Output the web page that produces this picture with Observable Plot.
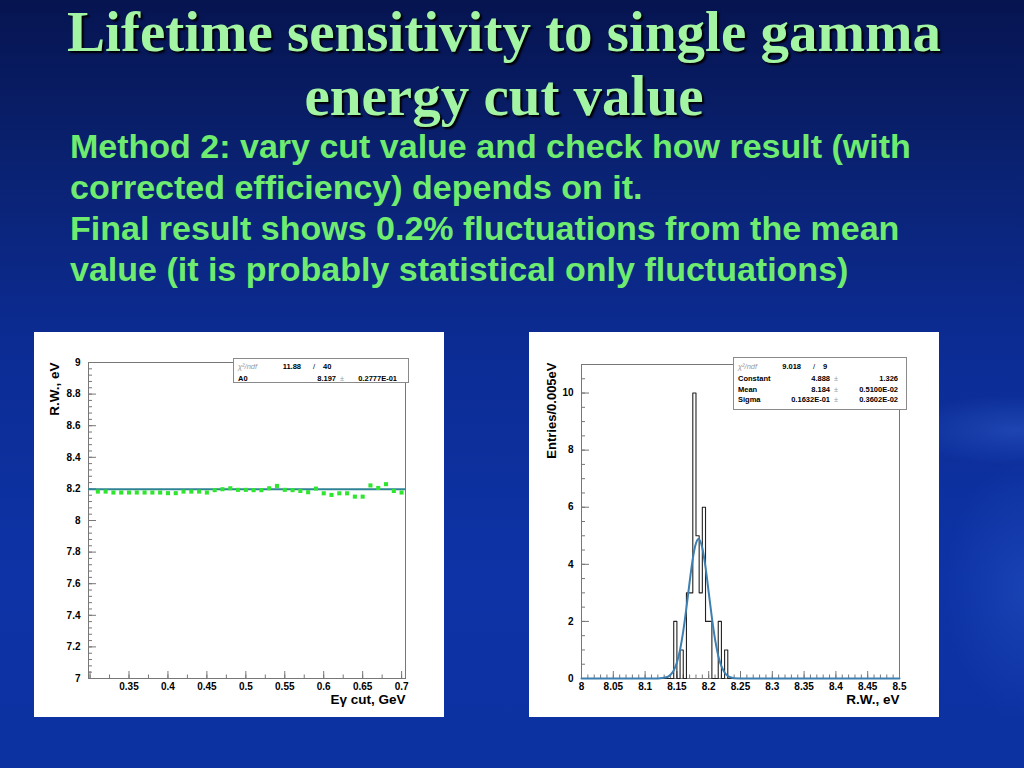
<!DOCTYPE html>
<html><head><meta charset="utf-8">
<script src="https://cdn.jsdelivr.net/npm/d3@7"></script>
<script src="https://cdn.jsdelivr.net/npm/@observablehq/plot@0.6"></script>
<style>
html,body{margin:0;padding:0;}
body{width:1024px;height:768px;overflow:hidden;position:relative;
background:
 radial-gradient(ellipse 110px 35px at 1015px 430px, rgba(70,120,230,0.30), rgba(70,120,230,0) 100%),
 radial-gradient(ellipse 80px 130px at 1025px 590px, rgba(60,110,220,0.25), rgba(60,110,220,0) 100%),
 linear-gradient(180deg,#061450 0%,#0a2272 22%,#0c2c94 45%,#0d33a6 75%,#0c31a0 100%);
font-family:"Liberation Sans",Arial,sans-serif;}
#title{position:absolute;left:0;width:1008px;top:0px;text-align:center;font-family:"Liberation Serif","Times New Roman",serif;font-weight:bold;font-size:57px;line-height:64px;color:#a3f5a3;text-shadow:2px 2px 2px #000;}
#body{position:absolute;left:70px;top:126px;font-weight:bold;font-size:34px;line-height:41px;color:#6fec6f;white-space:nowrap;}
.panel{position:absolute;top:332px;width:410px;height:385px;background:#fff;}
.panel svg{display:block;}
.stats{position:absolute;background:#fff;border:1px solid #8a8a8a;box-sizing:border-box;font:bold 7.5px "Liberation Sans",Arial,sans-serif;color:#000;}
.stats span{position:absolute;white-space:nowrap;line-height:9px;}
</style></head>
<body>
<div id="title">Lifetime sensitivity to single gamma<br>energy cut value</div>
<div id="body">Method 2: vary cut value and check how result (with<br>corrected efficiency) depends on it.<br>Final result shows 0.2% fluctuations from the mean<br>value (it is probably statistical only fluctuations)</div>
<div class="panel" id="pl" style="left:34px"></div>
<div class="panel" id="pr" style="left:529px"></div>
<script>
// ---- Left chart data: R.W. vs gamma energy cut ----
const cutValues = [0.31,0.32,0.33,0.34,0.35,0.36,0.37,0.38,0.39,0.40,0.41,0.42,0.43,0.44,0.45,0.46,0.47,0.48,0.49,0.50,0.51,0.52,0.53,0.54,0.55,0.56,0.57,0.58,0.59,0.60,0.61,0.62,0.63,0.64,0.65,0.66,0.67,0.68,0.69,0.70];
const rwValues = [8.183,8.183,8.177,8.177,8.177,8.177,8.177,8.177,8.177,8.173,8.173,8.183,8.183,8.183,8.177,8.192,8.198,8.204,8.194,8.194,8.192,8.192,8.204,8.219,8.194,8.192,8.187,8.179,8.202,8.172,8.162,8.172,8.172,8.151,8.151,8.222,8.206,8.230,8.187,8.177];
const fitA0 = 8.197;
const leftXDomain = [0.298, 0.705];
const leftYDomain = [7, 9];
const leftXTicks = [0.35,0.4,0.45,0.5,0.55,0.6,0.65,0.7];
const leftXMajor = [0.3,0.35,0.4,0.45,0.5,0.55,0.6,0.65,0.7];
const leftYTicks = [7,7.2,7.4,7.6,7.8,8,8.2,8.4,8.6,8.8,9];
const leftXTitle = "Eγ cut, GeV";
const leftYTitle = "R.W., eV";
const leftStats = [["χ²/ndf","11.88","40"],["A0","8.197","0.2777E-01"]];

// ---- Right chart data: histogram of R.W. ----
const histFirstEdge = 8.145;
const histBinWidth = 0.005;
const histCounts = [2,0,1,0,3,3,10,5,3,6,2,2,0,0,2,0,1];
const gaussX = [8.0,8.12,8.135,8.14,8.145,8.15,8.155,8.16,8.165,8.17,8.175,8.18,8.184,8.19,8.195,8.2,8.205,8.21,8.215,8.22,8.225,8.23,8.235,8.24,8.26,8.5];
const gaussY = [0,0,0.05,0.13,0.28,0.56,1.01,1.66,2.48,3.38,4.20,4.74,4.89,4.57,3.90,3.02,2.13,1.37,0.80,0.43,0.21,0.09,0.04,0.01,0,0];
const rightXDomain = [8, 8.5];
const rightYDomain = [0, 11];
const rightXTicks = [8,8.05,8.1,8.15,8.2,8.25,8.3,8.35,8.4,8.45,8.5];
const rightYTicks = [0,2,4,6,8,10];
const rightXTitle = "R.W., eV";
const rightYTitle = "Entries/0.005eV";
const rightStats = [["χ²/ndf","9.018","9"],["Constant","4.888","1.326"],["Mean","8.184","0.5100E-02"],["Sigma","0.1632E-01","0.3602E-02"]];

const fmt = d => String(d);
const baseStyle = {background:"#fff", color:"#000", fontFamily:"Liberation Sans, Arial, sans-serif", fontWeight:"bold", fontSize:"10px"};
const axisStroke = "#777";

function tickRules(xDom, yDom, innerW, innerH, xMajor, xMinor, yMajor, yMinor) {
  const pxX = (xDom[1]-xDom[0])/innerW, pxY = (yDom[1]-yDom[0])/innerH;
  const inX = v => v >= xDom[0]-1e-9 && v <= xDom[1]+1e-9;
  const inY = v => v >= yDom[0]-1e-9 && v <= yDom[1]+1e-9;
  return [
    Plot.ruleX(xMajor.filter(inX), {x: d=>d, y1: ()=>yDom[0], y2: ()=>yDom[0]+7*pxY, stroke: axisStroke}),
    Plot.ruleX(xMinor.filter(inX), {x: d=>d, y1: ()=>yDom[0], y2: ()=>yDom[0]+3.5*pxY, stroke: axisStroke}),
    Plot.ruleY(yMajor.filter(inY), {y: d=>d, x1: ()=>xDom[0], x2: ()=>xDom[0]+8*pxX, stroke: axisStroke}),
    Plot.ruleY(yMinor.filter(inY), {y: d=>d, x1: ()=>xDom[0], x2: ()=>xDom[0]+4*pxX, stroke: axisStroke})
  ];
}

// Left chart
const leftPts = cutValues.map((c,i)=>({cut:c, rw:rwValues[i]}));
const lm = {top:30,right:39,bottom:39,left:54};
const leftChart = Plot.plot({
  width:410, height:385, marginTop:lm.top, marginRight:lm.right, marginBottom:lm.bottom, marginLeft:lm.left,
  x:{domain:leftXDomain}, y:{domain:leftYDomain},
  style: baseStyle,
  marks: [
    Plot.frame({stroke:axisStroke}),
    ...tickRules(leftXDomain, leftYDomain, 410-lm.left-lm.right, 385-lm.top-lm.bottom,
      leftXMajor, d3.range(0.3, 0.706, 0.025), leftYTicks, d3.range(7, 9.001, 0.04)),
    Plot.ruleY([fitA0], {y:d=>d, stroke:"#2f8395", strokeWidth:2}),
    Plot.dot(leftPts, {x:"cut", y:"rw", symbol:"square", r:2.3, fill:"#2ee62e"}),
    Plot.axisX({ticks:leftXTicks, tickSize:0, tickPadding:4, tickFormat:fmt, label:null}),
    Plot.axisY({ticks:leftYTicks, tickSize:0, tickPadding:8, tickFormat:fmt, label:null}),
    Plot.text([leftXTitle], {text:d=>d, frameAnchor:"bottom-right", textAnchor:"end", dy:25, fontSize:13.5}),
    Plot.text([leftYTitle], {text:d=>d, frameAnchor:"top-left", rotate:-90, textAnchor:"end", dx:-39, fontSize:13.5})
  ]
});
document.getElementById("pl").appendChild(leftChart);

// Right chart
const histLine = [{x:rightXDomain[0], y:0}];
histCounts.forEach((c,i)=>histLine.push({x: histFirstEdge + i*histBinWidth, y:c}));
histLine.push({x: histFirstEdge + histCounts.length*histBinWidth, y:0});
histLine.push({x: rightXDomain[1], y:0});
const gauss = gaussX.map((x,i)=>({x, y:gaussY[i]}));
const rm = {top:32,right:40,bottom:39,left:52};
const rightChart = Plot.plot({
  width:410, height:385, marginTop:rm.top, marginRight:rm.right, marginBottom:rm.bottom, marginLeft:rm.left,
  x:{domain:rightXDomain}, y:{domain:rightYDomain},
  style: baseStyle,
  marks: [
    Plot.frame({stroke:axisStroke}),
    ...tickRules(rightXDomain, rightYDomain, 410-rm.left-rm.right, 385-rm.top-rm.bottom,
      rightXTicks, d3.range(8, 8.5001, 0.01), rightYTicks, d3.range(0, 11.001, 0.5)),
    Plot.line(histLine, {x:"x", y:"y", curve:"step-after", stroke:"#222", strokeWidth:1.1}),
    Plot.line(gauss, {x:"x", y:"y", curve:"monotone-x", stroke:"#3c7fb0", strokeWidth:2}),
    Plot.axisX({ticks:rightXTicks, tickSize:0, tickPadding:4, tickFormat:fmt, label:null}),
    Plot.axisY({ticks:rightYTicks, tickSize:0, tickPadding:8, tickFormat:fmt, label:null}),
    Plot.text([rightXTitle], {text:d=>d, frameAnchor:"bottom-right", textAnchor:"end", dy:25, fontSize:13.5}),
    Plot.text([rightYTitle], {text:d=>d, frameAnchor:"top-left", rotate:-90, textAnchor:"end", dx:-35, dy:-2, fontSize:13})
  ]
});
document.getElementById("pr").appendChild(rightChart);

// Fit statistics boxes
function statsBox(panelId, left, top, width, height, rows, rowY, valRight, errRight) {
  const box = document.createElement("div");
  box.className = "stats";
  Object.assign(box.style, {left:left+"px", top:top+"px", width:width+"px", height:height+"px"});
  const put = (txt, x, y, right, extra) => {
    const s = document.createElement("span");
    s.textContent = txt;
    s.style.top = (y-4.5)+"px";
    if (right) { s.style.right = (width - x) + "px"; } else { s.style.left = x+"px"; }
    if (extra) Object.assign(s.style, extra);
    box.appendChild(s);
  };
  rows.forEach((r,i)=>{
    const y = rowY[i];
    if (i === 0) {
      put(r[0], 4, y, false, {color:"#9a9a9a", fontWeight:"normal", fontStyle:"italic"});
      put(r[1], 69, y, true);
      put("/", 79, y, false, {fontWeight:"normal"});
      put(r[2], 89, y, false);
    } else {
      put(r[0], 4, y, false);
      put(r[1], valRight, y, true);
      put("±", valRight+2, y, false, {color:"#9a9a9a", fontWeight:"normal"});
      put(r[2], errRight, y, true);
    }
  });
  document.getElementById(panelId).appendChild(box);
}
statsBox("pl", 199, 26, 176, 25, leftStats, [7, 19.5], 104, 165);
statsBox("pr", 204, 25, 174, 53, rightStats, [8, 20, 31, 41], 98, 166);
</script>
</body></html>
